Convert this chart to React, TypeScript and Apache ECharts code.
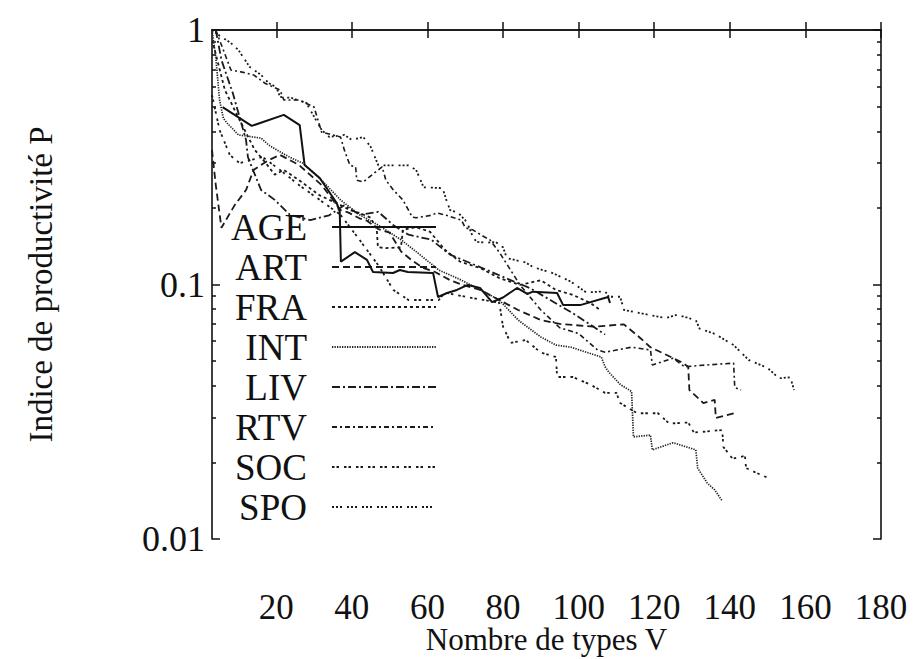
import React, { useEffect, useRef } from 'react';
import * as echarts from 'echarts';

// ---- data ----
const seriesNames = ['AGE', 'ART', 'FRA', 'INT', 'LIV', 'RTV', 'SOC', 'SPO'];

const ageData: number[][] = [[5.8,0.498],[13.5,0.42],[22,0.464],[26.2,0.423],[27.5,0.295],[31.5,0.262],[36,0.209],[36.8,0.193],[37.1,0.123],[40.8,0.134],[44,0.125],[45.6,0.112],[50.9,0.111],[52.7,0.114],[54.8,0.112],[61.5,0.111],[62.8,0.0893],[65.2,0.0926],[67.8,0.0952],[70.7,0.0996],[73.9,0.097],[77.1,0.0853],[80,0.0889],[83.7,0.0969],[86.4,0.0918],[87.9,0.0937],[94.3,0.0926],[95.9,0.083],[100.4,0.083],[107.8,0.0893],[108.3,0.0846]];
const artData: number[][] = [[3,0.338],[4,0.246],[5.5,0.167],[9,0.205],[12,0.235],[14,0.282],[18,0.308],[21,0.323],[26,0.295],[32,0.246],[37,0.196],[39,0.192],[42,0.182],[44,0.178],[47,0.165],[50,0.16],[53,0.135],[56,0.124],[59,0.116],[62,0.112],[66,0.104],[69,0.1],[74,0.0952],[79,0.0869],[84,0.0794],[90,0.0725],[95,0.07],[104,0.0683],[112,0.0697],[116,0.0622],[119,0.0567],[127,0.0497],[129,0.0475],[129.3,0.0385],[133,0.0342],[136,0.0352],[136.3,0.0299],[142,0.0314]];
const fraData: number[][] = [[3.4,0.873],[6.4,0.581],[10.3,0.443],[14.3,0.338],[17,0.303],[19.6,0.27],[22,0.282],[26,0.257],[31.5,0.224],[37,0.205],[39.5,0.196],[42,0.191],[45,0.183],[46.6,0.164],[46.9,0.14],[49,0.139],[53,0.14],[53.5,0.164],[57,0.168],[60.7,0.161],[64.6,0.137],[68.6,0.123],[74,0.116],[79,0.106],[84.5,0.0996],[90,0.104],[94,0.0952],[98.5,0.091],[103,0.0848],[105.7,0.0794]];
const intData: number[][] = [[3,1.0],[4,0.78],[5,0.531],[6,0.45],[7,0.431],[10,0.387],[16,0.376],[18,0.353],[21,0.332],[24,0.314],[27,0.3],[32,0.257],[37,0.215],[42,0.188],[47,0.171],[53,0.15],[58,0.131],[63,0.114],[69,0.104],[74,0.0952],[79,0.0869],[84,0.0725],[90,0.0622],[94,0.0578],[98,0.0567],[102,0.0542],[106,0.0519],[107,0.0475],[108,0.0452],[111,0.0405],[114,0.038],[114.5,0.0252],[119,0.0256],[119.5,0.0224],[125,0.0239],[131,0.0224],[131.5,0.019],[134,0.0166],[136,0.0156],[138,0.0141]];
const livData: number[][] = [[4,1.0],[5.5,0.762],[8.5,0.565],[10.3,0.455],[12,0.37],[12.5,0.317],[13.5,0.29],[16,0.235],[19.6,0.215],[23.6,0.188],[29,0.179],[34,0.187],[38,0.205],[42,0.188],[47,0.193],[51,0.171],[55,0.157],[61,0.15],[66,0.131],[71,0.122],[77,0.112],[82,0.104],[87,0.097],[92.5,0.0869],[98,0.0779],[103,0.0697],[107,0.0636]];
const rtvData: number[][] = [[4,1.0],[7,0.762],[8,0.696],[11,0.683],[14,0.666],[17,0.618],[21,0.581],[22,0.531],[26,0.531],[30,0.498],[32,0.397],[37,0.38],[38,0.338],[39.5,0.294],[41,0.29],[41.3,0.257],[43,0.253],[47,0.282],[48,0.29],[49,0.257],[51,0.235],[53.5,0.215],[56,0.184],[57,0.183],[61,0.187],[62.5,0.191],[65,0.187],[69,0.179],[70,0.167],[72,0.164],[75,0.154],[76.5,0.15],[78,0.14],[79,0.134],[84.5,0.0996],[90,0.0794],[95,0.0676],[100,0.0642],[105,0.0553],[107,0.0542],[114,0.0567],[119,0.0553],[119.5,0.0483],[125,0.0513],[128,0.0475],[134,0.0483],[141,0.0491],[141.3,0.0394],[143,0.0385]];
const socData: number[][] = [[3,0.555],[5,0.405],[7.7,0.323],[10.3,0.3],[16.4,0.317],[21,0.282],[26,0.246],[31.5,0.215],[37,0.188],[42,0.15],[47,0.119],[51,0.0952],[55,0.0869],[63,0.0869],[64.6,0.093],[71,0.0889],[79,0.0848],[80,0.0683],[82,0.059],[86,0.0605],[90,0.054],[94,0.0519],[94.3,0.0433],[98.5,0.0433],[103,0.0405],[107,0.0375],[110,0.0375],[111,0.0342],[115.5,0.0312],[121,0.0312],[124,0.0284],[129,0.0287],[130.5,0.0262],[138,0.0268],[138.3,0.023],[140.7,0.0207],[144,0.0212],[144.3,0.019],[147,0.0182],[150,0.0174]];
const spoData: number[][] = [[3,1.0],[5,0.95],[8,0.889],[10,0.834],[13,0.715],[16,0.666],[18,0.618],[20,0.597],[21,0.546],[24,0.541],[28,0.517],[29,0.485],[32,0.405],[34,0.38],[38,0.387],[40,0.37],[43,0.38],[45,0.347],[47,0.294],[55,0.294],[57,0.282],[59,0.241],[64,0.239],[65,0.215],[66,0.196],[68,0.192],[70,0.179],[71,0.168],[72,0.154],[73,0.147],[76,0.146],[78,0.147],[80,0.14],[81,0.127],[86,0.122],[88,0.117],[93,0.111],[96,0.106],[98,0.1025],[102,0.0931],[107,0.094],[108,0.0895],[111,0.0895],[112,0.0794],[116,0.0773],[123,0.0738],[126,0.076],[131,0.0725],[132,0.0671],[136,0.064],[141,0.0578],[145,0.0505],[150,0.047],[153,0.0428],[156,0.0432],[157,0.0385]];

const xTickValues = [20, 40, 60, 80, 100, 120, 140, 160, 180];
const yMajorValues = [0.01, 0.1, 1];
const yMinorValues = [0.02, 0.03, 0.04, 0.05, 0.06, 0.07, 0.08, 0.09, 0.2, 0.3, 0.4, 0.5, 0.6, 0.7, 0.8, 0.9];

const FONT = '"Liberation Serif", "DejaVu Serif", "Times New Roman", serif';
const INK = '#111';

const allData = [ageData, artData, fraData, intData, livData, rtvData, socData, spoData];
const lineStyles: { width: number; type: any; color: string }[] = [
  { width: 2, type: 'solid', color: '#111' },
  { width: 1.8, type: [7, 4], color: '#1a1a1a' },
  { width: 1.8, type: [3, 3], color: '#1a1a1a' },
  { width: 1.7, type: [1.3, 1.2], color: '#222' },
  { width: 1.8, type: [8, 3, 2, 3], color: '#1a1a1a' },
  { width: 1.6, type: [5, 3, 2, 3], color: '#1a1a1a' },
  { width: 1.8, type: [2.5, 2, 2.5, 5], color: '#1a1a1a' },
  { width: 1.8, type: [2, 2, 2, 2, 2, 5], color: '#1a1a1a' },
];

export default function App() {
  const ref = useRef<HTMLDivElement>(null);
  useEffect(() => {
    const chart = echarts.init(ref.current as HTMLDivElement, null, { renderer: 'svg' });
    const logVals = (arr: number[]) => arr.map((v) => Math.log10(v));
    const frameLine = { show: true, lineStyle: { color: INK, width: 1.6 } };
    const tickStyle = { color: INK, width: 1.5 };
    chart.setOption({
      animation: false,
      backgroundColor: '#fff',
      textStyle: { fontFamily: FONT },
      grid: { left: 212, top: 30, right: 38, bottom: 120, outerBoundsMode: 'none', containLabel: false },
      legend: {
        orient: 'vertical',
        right: 482,
        top: 208,
        padding: 0,
        itemGap: 2,
        itemWidth: 104,
        itemHeight: 10,
        align: 'right',
        selectedMode: false,
        itemStyle: { opacity: 0 },
        textStyle: { fontFamily: FONT, fontSize: 37, color: INK, lineHeight: 38, padding: [0, 20, 0, 0] },
        data: seriesNames,
      },
      xAxis: [
        {
          type: 'value', position: 'bottom', min: 3, max: 180,
          name: 'Nombre de types V', nameLocation: 'middle', nameGap: 86, nameMoveOverlap: false,
          nameTextStyle: { fontFamily: FONT, fontSize: 31, color: INK, lineHeight: 28 },
          axisLine: frameLine,
          axisTick: { show: true, inside: true, length: 8, customValues: xTickValues, lineStyle: tickStyle },
          axisLabel: { show: true, customValues: xTickValues, fontFamily: FONT, fontSize: 35, color: INK, margin: 54, lineHeight: 28 },
          splitLine: { show: false },
        },
        {
          type: 'value', position: 'top', min: 3, max: 180,
          axisLine: frameLine,
          axisTick: { show: true, inside: true, length: 8, customValues: xTickValues, lineStyle: tickStyle },
          axisLabel: { show: false },
          splitLine: { show: false },
        },
      ],
      yAxis: [
        {
          type: 'log', logBase: 10, position: 'left', min: 0.01, max: 1,
          name: 'Indice de productivité P', nameLocation: 'middle', nameGap: 155,
          nameTextStyle: { fontFamily: FONT, fontSize: 33, color: INK, lineHeight: 33 },
          axisLine: frameLine,
          axisTick: { show: true, inside: true, length: 8, lineStyle: tickStyle },
          axisLabel: {
            show: true, fontFamily: FONT, fontSize: 36, color: INK, margin: 7,
            formatter: (v: number) => String(Number(Number(v).toPrecision(2))),
          },
          splitLine: { show: false },
        },
        {
          type: 'value', position: 'left', min: -2, max: 0,
          axisLine: { show: false },
          axisTick: { show: true, inside: true, length: 4, customValues: logVals(yMinorValues), lineStyle: tickStyle },
          axisLabel: { show: false },
          splitLine: { show: false },
        },
        {
          type: 'value', position: 'right', min: -2, max: 0,
          axisLine: frameLine,
          axisTick: { show: true, inside: true, length: 8, customValues: logVals(yMajorValues), lineStyle: tickStyle },
          axisLabel: { show: false },
          splitLine: { show: false },
        },
        {
          type: 'value', position: 'right', min: -2, max: 0,
          axisLine: { show: false },
          axisTick: { show: true, inside: true, length: 4, customValues: logVals(yMinorValues), lineStyle: tickStyle },
          axisLabel: { show: false },
          splitLine: { show: false },
        },
      ],
      series: seriesNames.map((name, i) => ({
        name,
        type: 'line',
        xAxisIndex: 0,
        yAxisIndex: 0,
        data: allData[i],
        symbol: 'none',
        showSymbol: false,
        clip: true,
        z: i === 0 ? 5 : 3,
        lineStyle: lineStyles[i],
        itemStyle: { color: lineStyles[i].color },
        emphasis: { disabled: true },
      })),
    });
    return () => chart.dispose();
  }, []);
  return (
    <div
      ref={ref}
      style={{ position: 'fixed', left: 0, top: 0, width: 919, height: 659, background: '#fff' }}
    />
  );
}
